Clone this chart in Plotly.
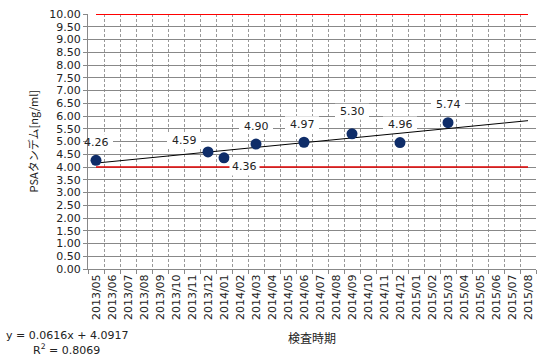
import numpy as np
import plotly.graph_objects as go

# ---- data ----
months = ["2013/05", "2013/06", "2013/07", "2013/08", "2013/09", "2013/10", "2013/11",
          "2013/12", "2014/01", "2014/02", "2014/03", "2014/04", "2014/05", "2014/06",
          "2014/07", "2014/08", "2014/09", "2014/10", "2014/11", "2014/12", "2015/01",
          "2015/02", "2015/03", "2015/04", "2015/05", "2015/06", "2015/07", "2015/08"]
psa_months = ["2013/05", "2013/12", "2014/01", "2014/03", "2014/06", "2014/09", "2014/12", "2015/03"]
psa_values = [4.26, 4.59, 4.36, 4.90, 4.97, 5.30, 4.96, 5.74]
upper_line = 10.0
lower_line = 4.0
y_ticks = [i * 0.5 for i in range(21)]

# ---- derived ----
idx = list(range(1, len(months) + 1))
px_ = [months.index(m) + 1 for m in psa_months]
slope, intercept = np.polyfit(px_, psa_values, 1)
pred = np.polyval([slope, intercept], px_)
ss_res = np.sum((np.array(psa_values) - pred) ** 2)
ss_tot = np.sum((np.array(psa_values) - np.mean(psa_values)) ** 2)
r2 = 1 - ss_res / ss_tot
trend_x = [idx[0], idx[-1]]
trend_y = [slope * x + intercept for x in trend_x]

# label offsets (pixels)
label_shift = [(0, 18), (-24, 11), (20, -9), (0, 18), (-2, 18), (0, 22), (0, 18), (0, 18)]

FONT = "DejaVu Sans"
fig = go.Figure()
fig.add_trace(go.Scatter(x=[idx[0], idx[-1]], y=[upper_line, upper_line], mode="lines",
                         line=dict(color="#FF0000", width=2), hoverinfo="skip"))
fig.add_trace(go.Scatter(x=[idx[0], idx[-1]], y=[lower_line, lower_line], mode="lines",
                         line=dict(color="#E00000", width=1.5), hoverinfo="skip"))
fig.add_trace(go.Scatter(x=trend_x, y=trend_y, mode="lines",
                         line=dict(color="#000000", width=1), hoverinfo="skip"))
fig.add_trace(go.Scatter(x=px_, y=psa_values, mode="markers",
                         marker=dict(color="#0F2D69", size=11)))

for x, v, (dx, dy) in zip(px_, psa_values, label_shift):
    below = dy < 0
    if not below:
        fig.add_shape(type="rect", xref="x", yref="y", xsizemode="pixel", ysizemode="pixel",
                      xanchor=x, yanchor=v, x0=dx - 17, x1=dx + 17, y0=dy - 8, y1=dy + 8,
                      fillcolor="white", line=dict(width=0), layer="between")
    fig.add_annotation(x=x, y=v, xref="x", yref="y", text=f"{v:.2f}", showarrow=False,
                       xshift=dx, yshift=dy,
                       bgcolor="white" if below else None, borderpad=2,
                       font=dict(family=FONT, size=11, color="#222"))

fig.add_annotation(x=-0.047, y=-0.259, xref="paper", yref="paper", showarrow=False,
                   xanchor="center", yanchor="middle",
                   text=f"y = {slope:.4f}x + {intercept:.4f}",
                   font=dict(family=FONT, size=11, color="#222"))
fig.add_annotation(x=-0.047, y=-0.314, xref="paper", yref="paper", showarrow=False,
                   xanchor="center", yanchor="middle",
                   text=f"R<sup>2</sup> = {r2:.4f}",
                   font=dict(family=FONT, size=11, color="#222"))
fig.add_annotation(x=0.5, y=-0.27, xref="paper", yref="paper", showarrow=False,
                   xanchor="center", yanchor="middle",
                   text="検査時期",
                   font=dict(family="Noto Sans CJK JP", size=12, color="#222"))
fig.add_annotation(x=-0.123, y=0.5, xref="paper", yref="paper", showarrow=False,
                   xanchor="center", yanchor="middle",
                   text="PSAタンデム[ng/ml]", textangle=-90,
                   font=dict(family="Noto Sans CJK JP", size=11, color="#222"))

fig.update_layout(
    width=551, height=364, showlegend=False,
    margin=dict(l=88, r=15, t=14, b=95),
    paper_bgcolor="white", plot_bgcolor="white",
    font=dict(family=FONT, size=11, color="#222"),
)
fig.update_xaxes(
    range=[0.5, len(months) + 0.5], tickmode="array", tickvals=idx, ticktext=months,
    tickangle=-90, ticks="", showgrid=False, zeroline=False, automargin=False,
    showline=True, linecolor="#888", linewidth=1,
    tickfont=dict(family=FONT, size=11, color="#222"),
    minor=dict(tick0=0.5, dtick=1, showgrid=True, gridcolor="#999", griddash="3px,2px",
               gridwidth=1, ticks="outside", ticklen=4, tickcolor="#888"),
)
fig.update_yaxes(
    range=[0, 10], tickmode="array", tickvals=y_ticks,
    ticktext=[f"{v:.2f}" for v in y_ticks],
    showgrid=True, gridcolor="#888", gridwidth=1, zeroline=False, automargin=False,
    showline=True, linecolor="#888", linewidth=1,
    ticks="outside", ticklen=4, tickcolor="#888",
    tickfont=dict(family=FONT, size=11, color="#222"),
)

fig.write_html("out.html", config={"displayModeBar": False},
               post_script="document.body.style.margin='0';")
